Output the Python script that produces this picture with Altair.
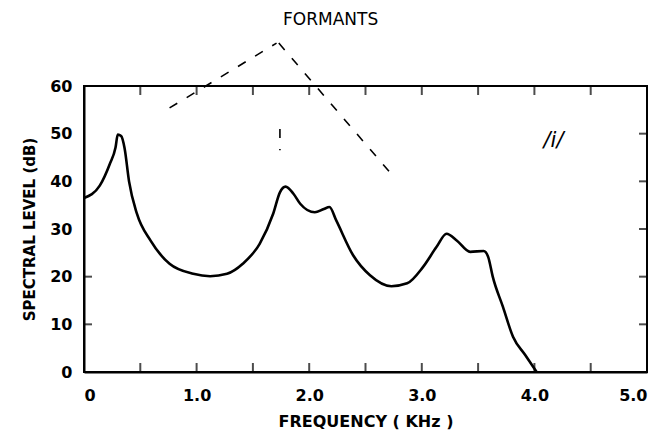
import altair as alt
import pandas as pd

# Spectral envelope of the vowel /i/
freq_khz = [0.0, 0.14, 0.23, 0.28, 0.30, 0.33, 0.36, 0.40, 0.47, 0.59, 0.76, 0.97,
            1.12, 1.27, 1.41, 1.56, 1.68, 1.74, 1.79, 1.86, 1.92, 2.05, 2.13, 2.18,
            2.24, 2.39, 2.54, 2.73, 2.87, 3.01, 3.13, 3.22, 3.31, 3.43, 3.55, 3.59,
            3.63, 3.72, 3.81, 3.92, 4.02]
level_db = [36.5, 39.1, 43.7, 47.1, 49.8, 49.5, 47.0, 40.0, 33.2, 27.6, 22.7, 20.6,
            20.1, 20.6, 22.7, 26.9, 33.2, 37.7, 38.9, 37.4, 35.3, 33.5, 34.2, 34.6,
            31.8, 24.5, 20.3, 18.0, 18.6, 22.0, 26.2, 29.0, 27.6, 25.2, 25.4, 24.1,
            20.0, 13.7, 7.4, 3.5, 0.0]

x_label_values = [0, 1, 2, 3, 4, 5]
x_minor_ticks = [0.5, 1.0, 1.5, 2.0, 2.5, 3.0, 3.5, 4.0, 4.5]
y_label_values = [0, 10, 20, 30, 40, 50, 60]
y_left_ticks = [10, 20]
y_right_ticks = [10, 20, 30, 40, 50]

# dashed "formant" pointer lines (data coordinates)
seg_f = [0.76, 1.73, 1.74]
seg_db = [55.4, 69.0, 51.0]
seg_f2 = [1.71, 2.72, 1.74]
seg_db2 = [69.0, 41.8, 46.5]

title_text = ["FORMANTS"]
title_f = [2.19]
title_db = [73.8]
vowel_text = ["/i/"]
vowel_f = [4.17]
vowel_db = [48.5]

W, H = 563, 286
FONT = "DejaVu Sans"

xs = alt.Scale(domain=[0, 5], nice=False, zero=False)
ys = alt.Scale(domain=[0, 60], nice=False, zero=False)

curve = pd.DataFrame({"f": freq_khz, "db": level_db})

line = alt.Chart(curve).mark_line(
    color="black", strokeWidth=2.6, interpolate="monotone"
).encode(
    x=alt.X("f:Q", scale=xs, axis=alt.Axis(
        values=x_label_values,
        labelExpr="datum.value == 0 ? '0' : format(datum.value, '.1f')",
        ticks=False, grid=False, domainColor="black", domainWidth=2,
        labelFont=FONT, labelFontSize=16, labelFontWeight="bold", labelColor="black",
        labelPadding=15, title="FREQUENCY ( KHz )", titleFont=FONT,
        titleFontSize=16, titleFontWeight="bold", titleColor="black",
        titlePadding=10)),
    y=alt.Y("db:Q", scale=ys, axis=alt.Axis(
        values=y_label_values, ticks=False, grid=False,
        domainColor="black", domainWidth=2,
        labelFont=FONT, labelFontSize=16, labelFontWeight="bold", labelColor="black",
        labelPadding=12, title="SPECTRAL  LEVEL  (dB)", titleFont=FONT,
        titleFontSize=15, titleFontWeight="bold", titleColor="black",
        titlePadding=12)),
)

xt = pd.DataFrame({"f": x_minor_ticks})
bottom_ticks = alt.Chart(xt).mark_tick(color="black", thickness=2, size=9).encode(
    x=alt.X("f:Q", scale=xs), y=alt.value(H - 4.5))
top_ticks = alt.Chart(xt).mark_tick(color="black", thickness=2, size=9).encode(
    x=alt.X("f:Q", scale=xs), y=alt.value(4.5))

ylt = pd.DataFrame({"db": y_left_ticks})
left_ticks = alt.Chart(ylt).mark_tick(color="black", thickness=2, size=8).encode(
    y=alt.Y("db:Q", scale=ys), x=alt.value(4))
yrt = pd.DataFrame({"db": y_right_ticks})
right_ticks = alt.Chart(yrt).mark_tick(color="black", thickness=2, size=8).encode(
    y=alt.Y("db:Q", scale=ys), x=alt.value(W - 4))

segs = pd.DataFrame({"f": seg_f, "db": seg_db, "f2": seg_f2, "db2": seg_db2})
dashes = alt.Chart(segs).mark_rule(
    color="black", strokeWidth=1.6, strokeDash=[9, 11], clip=False
).encode(
    x=alt.X("f:Q", scale=xs), y=alt.Y("db:Q", scale=ys),
    x2="f2:Q", y2="db2:Q")

ttl = alt.Chart(pd.DataFrame({"t": title_text, "f": title_f, "db": title_db})).mark_text(
    font=FONT, fontSize=17, color="black", clip=False
).encode(x=alt.X("f:Q", scale=xs), y=alt.Y("db:Q", scale=ys), text="t:N")

vow = alt.Chart(pd.DataFrame({"t": vowel_text, "f": vowel_f, "db": vowel_db})).mark_text(
    font=FONT, fontSize=21, fontStyle="italic", color="black"
).encode(x=alt.X("f:Q", scale=xs), y=alt.Y("db:Q", scale=ys), text="t:N")

chart = alt.layer(
    line, bottom_ticks, top_ticks, left_ticks, right_ticks, dashes, ttl, vow
).properties(
    width=W, height=H,
    autosize=alt.AutoSizeParams(type="none"),
    padding={"left": 84, "top": 86, "right": 16, "bottom": 71},
    background="white",
).configure_view(stroke="black", strokeWidth=2)

chart.save("out.html", embed_options={"renderer": "svg", "actions": False})
